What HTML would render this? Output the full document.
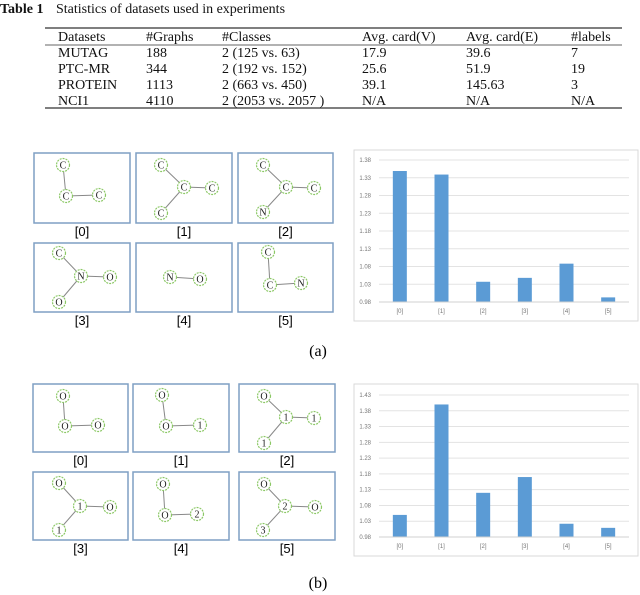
<!DOCTYPE html>
<html><head><meta charset="utf-8"><style>
body{margin:0;background:#fff;width:640px;height:595px;overflow:hidden;font-family:"Liberation Serif",serif;}
svg{position:absolute;left:0;top:0}
</style></head><body>
<svg width="640" height="595" font-family="Liberation Serif, serif">
<g font-size="14" fill="#111">
<text x="0" y="13" font-weight="bold">Table 1</text><text x="56" y="13">Statistics of datasets used in experiments</text>
<line x1="45" y1="28" x2="622" y2="28" stroke="#333" stroke-width="1.2"/>
<line x1="45" y1="45" x2="622" y2="45" stroke="#333" stroke-width="0.8"/>
<line x1="45" y1="108" x2="622" y2="108" stroke="#333" stroke-width="1.2"/>
<g id="trows"></g>
</g>
<g id="graphs"></g>
<g id="chartA"></g>
<g id="chartB"></g>
<text x="318" y="356" font-size="16" text-anchor="middle">(a)</text>
<text x="318" y="588" font-size="16" text-anchor="middle">(b)</text>
</svg>
<script>
const NS="http://www.w3.org/2000/svg";
function mk(p,t,a,txt){const e=document.createElementNS(NS,t);for(const k in a)e.setAttribute(k,a[k]);if(txt!==undefined)e.textContent=txt;p.appendChild(e);return e;}
// table
const rows=[["Datasets","#Graphs","#Classes","Avg. card(V)","Avg. card(E)","#labels"],
["MUTAG","188","2 (125 vs. 63)","17.9","39.6","7"],
["PTC-MR","344","2 (192 vs. 152)","25.6","51.9","19"],
["PROTEIN","1113","2 (663 vs. 450)","39.1","145.63","3"],
["NCI1","4110","2 (2053 vs. 2057 )","N/A","N/A","N/A"]];
const cx=[58,146,222,362,466,571];
const tr=document.getElementById('trows');
rows.forEach((r,i)=>r.forEach((c,j)=>{const t=mk(tr,'text',{x:cx[j],y:41+i*16},c);

}));
// graph panels
const G=document.getElementById('graphs');
const boxes=[[34,153,96,70,"[0]"],[136,153,96,70,"[1]"],[238,153,95,70,"[2]"],[34,243,96,69,"[3]"],[136,243,96,69,"[4]"],[238,243,95,69,"[5]"],
[33,384,95,68,"[0]"],[133,384,96,68,"[1]"],[239,384,96,68,"[2]"],[33,472,95,68,"[3]"],[133,472,96,68,"[4]"],[239,472,96,68,"[5]"]];
const mols=[
[[[63,165,"C"],[66,196,"C"],[99,195,"C"]],[[0,1],[1,2]]],
[[[161,165,"C"],[184,187,"C"],[212,188,"C"],[161,213,"C"]],[[0,1],[1,2],[1,3]]],
[[[263,165,"C"],[286,187,"C"],[314,188,"C"],[263,212,"N"]],[[0,1],[1,2],[1,3]]],
[[[59,253,"C"],[81,276,"N"],[110,277,"O"],[59,302,"O"]],[[0,1],[1,2],[1,3]]],
[[[170,277,"N"],[200,279,"O"]],[[0,1]]],
[[[268,252,"C"],[270,285,"C"],[301,283,"N"]],[[0,1],[1,2]]],
[[[63,396,"O"],[65,426,"O"],[98,425,"O"]],[[0,1],[1,2]]],
[[[162,395,"O"],[166,426,"O"],[200,425,"1"]],[[0,1],[1,2]]],
[[[264,396,"O"],[286,417,"1"],[314,418,"1"],[264,443,"1"]],[[0,1],[1,2],[1,3]]],
[[[59,483,"O"],[80,506,"1"],[110,507,"O"],[59,530,"1"]],[[0,1],[1,2],[1,3]]],
[[[163,484,"O"],[165,515,"O"],[197,514,"2"]],[[0,1],[1,2]]],
[[[264,484,"O"],[285,506,"2"],[315,507,"O"],[263,530,"3"]],[[0,1],[1,2],[1,3]]]];
boxes.forEach((b,i)=>{
const r=mk(G,'rect',{x:b[0],y:b[1],width:b[2],height:b[3],fill:'#fff',stroke:'#7f9fc4','stroke-width':1.5});


const l=mk(G,'text',{x:b[0]+b[2]/2,y:b[1]+b[3]+13,'text-anchor':'middle','font-size':13,'font-family':'Liberation Sans, sans-serif'},b[4]);


const [nodes,edges]=mols[i];
edges.forEach(e=>mk(G,'line',{x1:nodes[e[0]][0],y1:nodes[e[0]][1],x2:nodes[e[1]][0],y2:nodes[e[1]][1],stroke:'#888','stroke-width':1}));
nodes.forEach(n=>{const c=mk(G,'circle',{cx:n[0],cy:n[1],r:6.5,fill:'#fff',stroke:'#8cc866','stroke-width':1.2,'stroke-dasharray':'2 1'});


mk(G,'text',{x:n[0],y:n[1]+3.5,'text-anchor':'middle','font-size':10,fill:'#222'},n[2]);});
});
// charts
const categories=["[0]","[1]","[2]","[3]","[4]","[5]"];
const valuesA=[1.349,1.339,1.037,1.048,1.088,0.993];
const ticksA=["0.98","1.03","1.08","1.13","1.18","1.23","1.28","1.33","1.38"];
const valuesB=[1.050,1.400,1.120,1.170,1.022,1.009];
const ticksB=["0.98","1.03","1.08","1.13","1.18","1.23","1.28","1.33","1.38","1.43"];
function chart(id,frame,plot,ticks,vals){
const g=document.getElementById(id);
mk(g,'rect',{x:frame[0],y:frame[1],width:frame[2],height:frame[3],fill:'#fff',stroke:'#d9d9d9'});
const lo=parseFloat(ticks[0]),hi=parseFloat(ticks[ticks.length-1]);
const y=v=>plot.y1-(v-lo)/(hi-lo)*(plot.y1-plot.y0);
const bw=(plot.x1-plot.x0)/categories.length;
const x=i=>plot.x0+bw*(i+0.5);
ticks.forEach(t=>{const v=parseFloat(t);
mk(g,'line',{x1:plot.x0,x2:plot.x1,y1:y(v),y2:y(v),stroke:'#e3e3e3'});
const tl=mk(g,'text',{x:plot.x0-8,y:y(v)+2,'text-anchor':'end','font-size':6,fill:'#777','font-family':'Liberation Sans, sans-serif'},t);

});
vals.forEach((v,i)=>{const b=mk(g,'rect',{x:x(i)-7,y:y(v),width:14,height:y(lo)-y(v),fill:'#5b9bd5'});


const c=mk(g,'text',{x:x(i),y:plot.y1+11,'text-anchor':'middle','font-size':6,fill:'#777','font-family':'Liberation Sans, sans-serif'},categories[i]);

});
mk(g,'line',{x1:plot.x0,x2:plot.x1,y1:plot.y1,y2:plot.y1,stroke:'#d0d0d0'});
}
chart('chartA',[354,150,284,171],{x0:379,x1:629,y0:160,y1:302},ticksA,valuesA);
chart('chartB',[354,384,284,172],{x0:379,x1:629,y0:395,y1:537},ticksB,valuesB);
</script>
</body></html>
